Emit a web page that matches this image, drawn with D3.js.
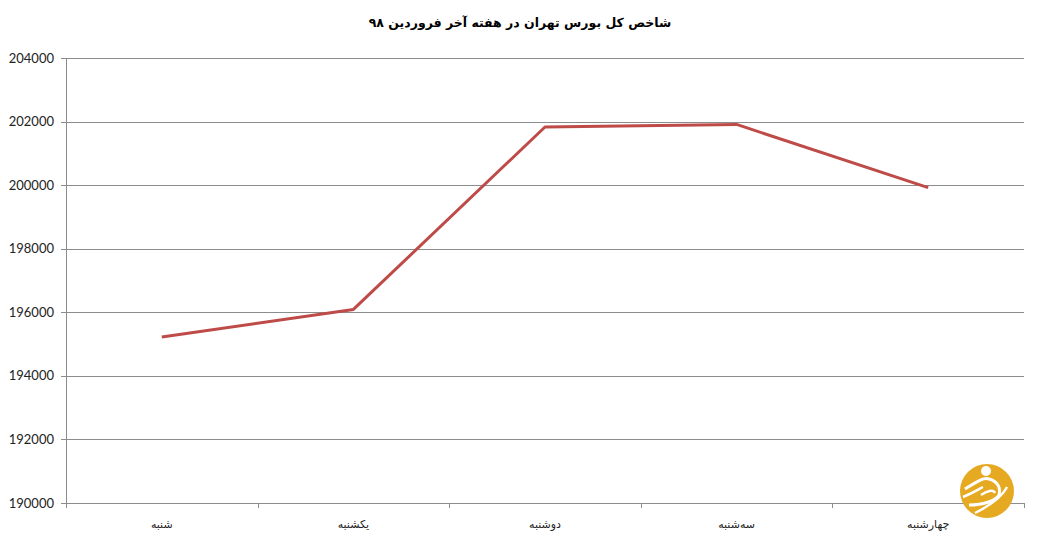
<!DOCTYPE html>
<html><head><meta charset="utf-8">
<script src="https://cdn.jsdelivr.net/npm/d3@7"></script>
<style>body{margin:0;background:#fff}</style>
</head><body>
<svg id="c" width="1038" height="547"></svg>
<script>
const title = "شاخص کل بورس تهران در هفته آخر فروردین ۹۸";
const categories = ["شنبه","یکشنبه","دوشنبه","سه‌شنبه","چهارشنبه"];
const values = [195220, 196090, 201830, 201910, 199920];
const yTicks = [190000,192000,194000,196000,198000,200000,202000,204000];

const svg = d3.select("#c");
const L=66, R=1024, T=58, B=503;
const x = d3.scaleBand().domain(categories).range([L,R]);
const y = d3.scaleLinear().domain([190000,204000]).range([B,T]);

svg.append("text").attr("x",520).attr("y",27).attr("text-anchor","middle")
  .attr("font-family","DejaVu Sans").attr("font-weight","bold").attr("font-size",12.5)
  .attr("direction","rtl").text(title);

// gridlines
svg.append("g").selectAll("line").data(yTicks).join("line")
  .attr("x1",L-5).attr("x2",R).attr("y1",d=>Math.round(y(d))+0.5).attr("y2",d=>Math.round(y(d))+0.5)
  .attr("stroke","#8c8c8c").attr("stroke-width",1);
// y axis line
svg.append("line").attr("x1",L+0.5).attr("x2",L+0.5).attr("y1",T).attr("y2",B+5).attr("stroke","#8c8c8c");
// x ticks
const xt = categories.map(c=>x(c)).concat([R]);
svg.append("g").selectAll("line").data(xt).join("line")
  .attr("x1",d=>Math.round(d)+0.5).attr("x2",d=>Math.round(d)+0.5).attr("y1",B).attr("y2",B+5).attr("stroke","#8c8c8c");

svg.append("g").selectAll("text").data(yTicks).join("text")
  .attr("x",54).attr("y",d=>y(d)+4.5).attr("text-anchor","end")
  .attr("font-family","Lato, 'Open Sans', sans-serif").attr("font-size",13).attr("fill","#222")
  .text(d=>d);

svg.append("g").selectAll("text").data(categories).join("text")
  .attr("x",d=>x(d)+x.bandwidth()/2).attr("y",528).attr("text-anchor","middle")
  .attr("font-family","DejaVu Sans").attr("font-size",11).attr("fill","#222")
  .attr("direction","rtl").text(d=>d);

const line = d3.line().x((d,i)=>x(categories[i])+x.bandwidth()/2).y(d=>y(d));
svg.append("path").datum(values).attr("d",line).attr("fill","none")
  .attr("stroke","#BE4B48").attr("stroke-width",3).attr("stroke-linejoin","round");

// logo
const g = svg.append("g").attr("transform","translate(987,491)");
g.append("circle").attr("r",27).attr("fill","#E6A922");
g.append("circle").attr("cx",-1).attr("cy",-20).attr("r",5).attr("fill","#fff");
g.append("path").attr("d","M-22,-2 C-12,-8 -4,-14 2,-12 C10,-10 14,-4 12,4 C8,10 -4,14 -18,14")
  .attr("fill","none").attr("stroke","#fff").attr("stroke-width",3);
g.append("path").attr("d","M-24,6 C-14,2 -8,-2 -4,-4 M-6,4 C0,0 6,-2 8,2")
  .attr("fill","none").attr("stroke","#fff").attr("stroke-width",2.5);
g.append("path").attr("d","M-12,22 C0,16 14,8 20,-4")
  .attr("fill","none").attr("stroke","#fff").attr("stroke-width",2.5);
</script>
</body></html>
